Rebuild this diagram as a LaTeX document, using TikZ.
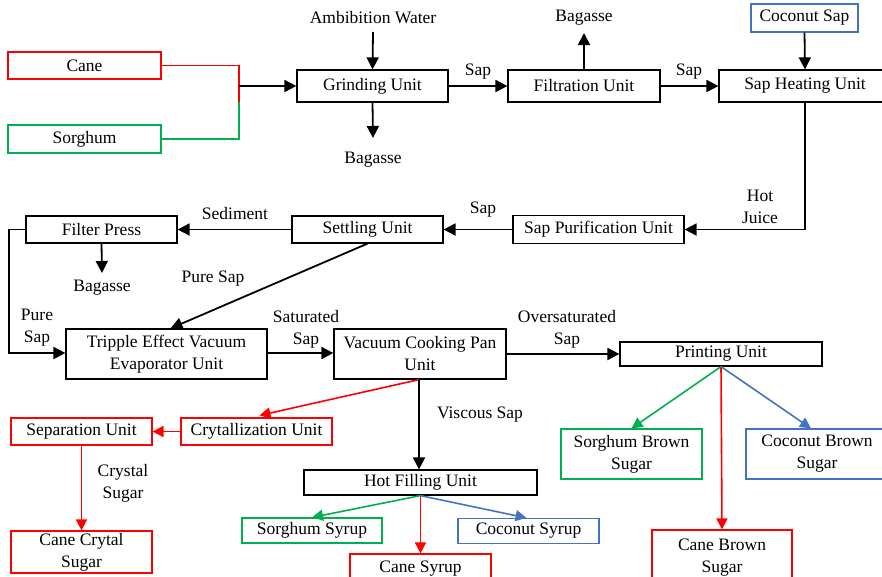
\documentclass[tikz,border=0pt]{standalone}
\usepackage{fontspec}
\setmainfont{Liberation Serif}
\usetikzlibrary{arrows.meta,calc}
\definecolor{cred}{RGB}{255,0,0}
\definecolor{cgreen}{RGB}{0,176,80}
\definecolor{cblue}{RGB}{68,114,196}
\begin{document}
\begin{tikzpicture}[x=1pt,y=-1pt,
  every node/.style={font=\fontsize{17.5}{22}\selectfont},
  box/.style={draw, line width=1.2pt, inner sep=0pt, align=center},
  lbl/.style={inner sep=0pt, align=center},
  arr/.style={line width=1.8pt, -{Triangle[length=12pt,width=12pt]}},
  carr/.style={line width=1.6pt, -{Triangle[length=11pt,width=11pt]}},
  lin/.style={line width=1.6pt}]
\useasboundingbox (0,0) rectangle (882,576);
\clip (0,0) rectangle (882,576);
% boxes
\node[box, draw=cred, minimum width=153, minimum height=27] (cane) at (84.5,65.5) {Cane};
\node[box, draw=cgreen, minimum width=153, minimum height=28] (sorg) at (84.5,139) {Sorghum};
\node[box, minimum width=151, minimum height=32] (grind) at (372.5,86) {Grinding Unit};
\node[box, minimum width=152, minimum height=32] (filt) at (584,86) {Filtration Unit};
\node[box, minimum width=172, minimum height=32] (heat) at (805,86) {Sap Heating Unit};
\node[box, draw=cblue, minimum width=107, minimum height=28] (coco) at (804.5,18) {Coconut Sap};
\node[box, minimum width=171, minimum height=28] (puri) at (598.5,229.5) {Sap Purification Unit};
\node[box, minimum width=151, minimum height=27] (sett) at (367.5,229.5) {Settling Unit};
\node[box, minimum width=151, minimum height=27] (fp) at (101.5,229.5) {Filter Press};
\node[box, minimum width=201, minimum height=50] (tev) at (166.5,354) {Tripple Effect Vacuum\\Evaporator Unit};
\node[box, minimum width=172, minimum height=50] (vcp) at (420,354) {Vacuum Cooking Pan\\Unit};
\node[box, minimum width=202, minimum height=24] (print) at (721,354) {Printing Unit};
\node[box, draw=cgreen, minimum width=141, minimum height=50] (sbs) at (631.5,454) {Sorghum Brown\\Sugar};
\node[box, draw=cblue, minimum width=142, minimum height=50] (cbs) at (817,454) {Coconut Brown\\Sugar};
\node[box, draw=cred, minimum width=140, minimum height=56] (cabs) at (722,558) {Cane Brown\\Sugar};
\node[box, draw=cred, minimum width=151, minimum height=27] (cry) at (256.5,431.5) {Crytallization Unit};
\node[box, draw=cred, minimum width=141, minimum height=27] (sep) at (81.5,431.5) {Separation Unit};
\node[box, draw=cred, minimum width=141, minimum height=42] (ccs) at (81.5,552) {Cane Crytal\\Sugar};
\node[box, minimum width=233, minimum height=25] (hf) at (420.5,482.5) {Hot Filling Unit};
\node[box, draw=cgreen, minimum width=140, minimum height=25] (ss) at (312,530.5) {Sorghum Syrup};
\node[box, draw=cblue, minimum width=141, minimum height=25] (cs) at (528.5,531) {Coconut Syrup};
\node[box, draw=cred, minimum width=141, minimum height=30] (cas) at (420.5,569) {Cane Syrup};
% free labels
\node[lbl] (aw) at (373,18) {Ambibition Water};
\node[lbl] (bag1) at (373,160) {Bagasse};
\node[lbl] (bag2) at (584,18) {Bagasse};
\node[lbl] (bag3) at (102,288) {Bagasse};
\node[lbl] at (478,72) {Sap};
\node[lbl] at (689,72) {Sap};
\node[lbl] at (760,207) {Hot\\Juice};
\node[lbl] at (483,210) {Sap};
\node[lbl] at (235,214) {Sediment};
\node[lbl] at (213,279) {Pure Sap};
\node[lbl] at (37,327.5) {Pure\\Sap};
\node[lbl] at (306,329) {Saturated\\Sap};
\node[lbl] at (567,329) {Oversaturated\\Sap};
\node[lbl] at (480,415) {Viscous Sap};
\node[lbl] at (123,483) {Crystal\\Sugar};
% coordinates
\coordinate (jc) at (239,65.5);
\coordinate (jm) at (239,101.7);
\coordinate (js) at (239,139);
\coordinate (jin) at (239,86);
\coordinate (awe) at (373,32);
\coordinate (b1e) at (373,138);
\coordinate (b2e) at (584,33);
\coordinate (b3e) at (102,273);
\coordinate (fpl) at (9,229.5);
\coordinate (fpb) at (9,353);
% connectors
\draw[lin, cred] (cane.east) -- (jc) -- (jm);
\draw[lin, cgreen] (sorg.east) -- (js) -- (jm);
\draw[arr] (jin) -- (grind.west);
\draw[arr] (awe) -- (grind.north);
\draw[arr] (grind.south) -- (b1e);
\draw[arr] (grind.east) -- (filt.west);
\draw[arr] (filt.north) -- (b2e);
\draw[arr] (filt.east) -- (heat.west);
\draw[arr] (coco.south) -- (heat.north);
\draw[arr] (heat.south) |- (puri.east);
\draw[arr] (puri.west) -- (sett.east);
\draw[arr] (sett.west) -- (fp.east);
\draw[arr] (fp.south) -- (b3e);
\draw[arr] (fp.west) -- (fpl) -- (fpb) -- (tev.west|-fpb);
\draw[arr] (sett.south) -- ($(tev.north)+(4,0)$);
\draw[arr] (tev.east|-fpb) -- (vcp.west|-fpb);
\draw[arr] (vcp.east) -- (print.west);
\draw[carr, cgreen] (print.south) -- (sbs.north);
\draw[carr, cred] (print.south) -- (cabs.north);
\draw[carr, cblue] (print.south) -- ($(cbs.north)+(-6,0)$);
\draw[carr, cred] ($(vcp.south)+(-1,0)$) -- ($(cry.north)+(3,-2)$);
\draw[carr, cred] (cry.west) -- (sep.east);
\draw[carr, cred] (sep.south) -- (ccs.north);
\draw[arr] ($(vcp.south)+(-1,0)$) -- ($(hf.north)+(-1.5,0)$);
\draw[carr, cgreen] (hf.south) -- (ss.north);
\draw[carr, cred] (hf.south) -- (cas.north);
\draw[carr, cblue] (hf.south) -- ($(cs.north)+(-2,0)$);
\end{tikzpicture}
\end{document}
